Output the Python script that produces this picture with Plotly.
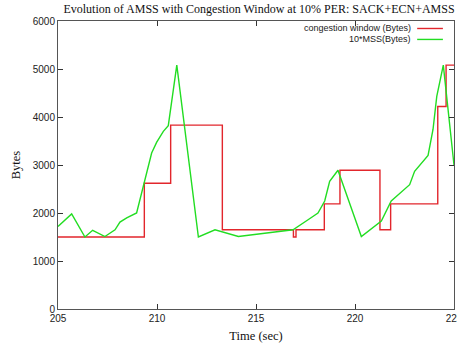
import plotly.graph_objects as go

# Congestion window (Bytes) - step series
cwnd_time = [205, 209.36, 210.69, 213.30, 216.89, 217.02, 218.45, 219.24, 221.26, 221.80, 224.18, 224.60, 225]
cwnd_bytes = [1500, 2620, 3830, 1650, 1500, 1650, 2190, 2890, 1650, 2190, 4220, 5080, 5080]

# 10*MSS (Bytes)
mss_time = [205.0, 205.69, 206.36, 206.75, 207.37, 207.88, 208.13, 208.47, 208.97, 209.31, 209.48,
            209.73, 209.98, 210.32, 210.57, 211.0, 212.09, 212.93, 214.11, 214.70, 216.87, 217.63,
            218.13, 218.47, 218.72, 219.14, 220.32, 221.33, 221.83, 222.76, 223.01, 223.69, 223.94,
            224.13, 224.46, 225.0]
mss_bytes = [1720, 1980, 1500, 1640, 1510, 1650, 1810, 1900, 2000, 2560, 2800,
             3250, 3470, 3700, 3820, 5080, 1500, 1650, 1510, 1540, 1650, 1860,
             2000, 2250, 2660, 2890, 1510, 1830, 2250, 2590, 2870, 3200, 3740,
             4430, 5080, 3000]

x_ticks = [205, 210, 215, 220, 225]
y_ticks = [0, 1000, 2000, 3000, 4000, 5000, 6000]

RED = "#e2262c"
GREEN = "#22dd22"

fig = go.Figure()
fig.add_trace(go.Scatter(x=cwnd_time, y=cwnd_bytes, mode="lines", line_shape="hv",
                         line=dict(color=RED, width=1.4), name="congestion window (Bytes)",
                         showlegend=False))
fig.add_trace(go.Scatter(x=mss_time, y=mss_bytes, mode="lines",
                         line=dict(color=GREEN, width=1.4), name="10*MSS(Bytes)",
                         showlegend=False))

axis_common = dict(showgrid=False, zeroline=False, showline=True, linecolor="#555555",
                   linewidth=1, mirror="ticks", ticks="inside", ticklen=5, tickcolor="#333333",
                   ticklabeloverflow="allow", automargin=False,
                   tickfont=dict(family="Liberation Sans, Arial, sans-serif", size=10, color="#222222"))

fig.update_xaxes(range=[205, 225], tickvals=x_ticks, ticktext=[str(v) for v in x_ticks],
                 title=dict(text="Time (sec)", font=dict(family="Liberation Serif, Times New Roman, serif",
                                                         size=12.5, color="#111111"), standoff=8),
                 **axis_common)
fig.update_yaxes(range=[0, 6000], tickvals=y_ticks, ticktext=[str(v) for v in y_ticks],
                 title=dict(text="Bytes", font=dict(family="Liberation Serif, Times New Roman, serif",
                                                    size=12.5, color="#111111"), standoff=9),
                 **axis_common)

# gnuplot-style legend: text right-aligned, sample line to the right
legend_items = [("congestion window (Bytes)", RED, 0.974), ("10*MSS(Bytes)", GREEN, 0.936)]
for text, color, yp in legend_items:
    fig.add_annotation(x=0.896, y=yp, xref="paper", yref="paper", text=text, showarrow=False,
                       xanchor="right", yanchor="middle",
                       font=dict(family="Liberation Sans, Arial, sans-serif", size=9, color="#222222"))
    fig.add_shape(type="line", xref="paper", yref="paper", x0=0.907, x1=0.972, y0=yp, y1=yp,
                  line=dict(color=color, width=1.4))

fig.update_layout(
    width=457, height=347,
    margin=dict(l=58, r=3, t=21, b=38),
    paper_bgcolor="white", plot_bgcolor="white",
    title=dict(text="Evolution of AMSS with Congestion Window at 10% PER: SACK+ECN+AMSS",
               x=259 / 457, xanchor="center", y=1 - 9 / 347, yanchor="middle",
               font=dict(family="Liberation Serif, Times New Roman, serif", size=12, color="#111111")),
    showlegend=False,
)

fig.write_html("out.html", config={"displayModeBar": False},
               post_script="document.body.style.margin='0';document.body.style.padding='0';document.body.style.overflow='hidden';")
